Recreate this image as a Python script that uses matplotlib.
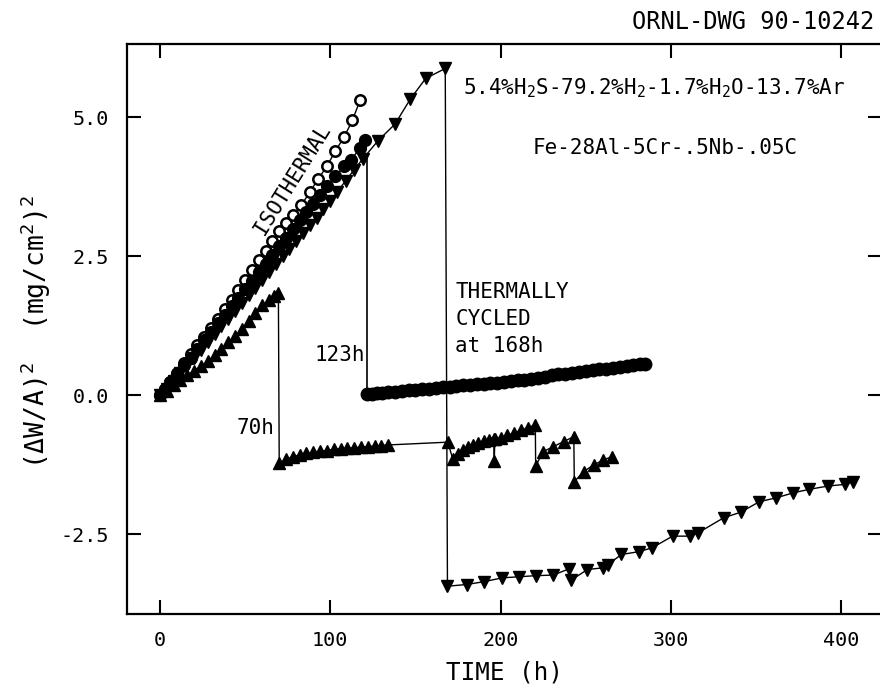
import matplotlib
matplotlib.use("Agg")
import matplotlib.pyplot as plt

MONO = 'DejaVu Sans Mono'
plt.rcParams['font.family'] = [MONO, 'DejaVu Sans']
plt.rcParams['axes.unicode_minus'] = False
plt.rcParams['mathtext.fontset'] = 'custom'
plt.rcParams['mathtext.rm'] = MONO
plt.rcParams['mathtext.it'] = MONO
plt.rcParams['mathtext.default'] = 'regular'

# ---------------- data ----------------
# isothermal, open circles
iso_t = [0, 3, 6, 10, 14, 18, 22, 26, 30, 34, 38, 42, 46, 50, 54, 58, 62, 66, 70,
         74, 78, 83, 88, 93, 98, 103, 108, 113, 117.5]
iso_w = [0, 0.12, 0.25, 0.40, 0.58, 0.74, 0.90, 1.06, 1.22, 1.38, 1.55, 1.72, 1.90,
         2.07, 2.25, 2.43, 2.60, 2.78, 2.95, 3.10, 3.25, 3.42, 3.66, 3.90, 4.12,
         4.40, 4.64, 4.95, 5.31]

# filled circles: isothermal part, cycled at 123 h
c1_t = [0, 3, 6, 10, 14, 18, 22, 26, 30, 34, 38, 42, 46, 50, 54, 58, 62, 66, 70,
        74, 78, 82, 86, 90, 94, 98, 103, 108, 112, 117.5, 120.5]
c1_w = [0, 0.12, 0.24, 0.38, 0.54, 0.68, 0.84, 0.99, 1.14, 1.30, 1.45, 1.60, 1.76,
        1.91, 2.06, 2.22, 2.37, 2.53, 2.68, 2.84, 3.00, 3.15, 3.30, 3.45, 3.60,
        3.76, 3.94, 4.12, 4.23, 4.45, 4.60]
c_drop_t = 121.5
c_drop_top = 4.27
c2_t = [121.5, 124.5, 127.5, 130.5, 134, 138, 142, 146, 150, 154, 158, 162, 166, 170,
        174, 178, 182, 186, 190, 194, 198, 202, 206, 210, 214, 218, 222, 226, 230,
        234, 238, 242, 246, 250, 254, 258, 262, 266, 270, 274, 278, 282, 285]
c2_w = [0.03, 0.035, 0.04, 0.05, 0.06, 0.07, 0.08, 0.09, 0.10, 0.11, 0.12, 0.13, 0.15,
        0.16, 0.17, 0.18, 0.19, 0.20, 0.21, 0.22, 0.23, 0.24, 0.26, 0.27, 0.28, 0.30,
        0.32, 0.34, 0.36, 0.38, 0.39, 0.40, 0.42, 0.44, 0.45, 0.47, 0.48, 0.50, 0.52,
        0.53, 0.55, 0.56, 0.57]

# upward triangles: cycled at 70 h, then repeatedly
tu_t = [0, 4, 8, 12, 16, 20, 24, 28, 32, 36, 40, 44, 48, 52, 56, 60, 64, 67, 69.5,
        70, 74, 78, 82, 86, 90, 94, 98, 102, 106, 110, 114, 118, 122, 126, 130, 134,
        169, 172, 175, 178, 181, 184, 187, 190, 193, 196, 196.3, 196.6, 200, 204, 208,
        212, 216, 220.4, 220.6, 225, 231, 237, 243, 243.3, 248.7, 254.6, 260.4, 265.4]
tu_w = [0, 0.08, 0.18, 0.28, 0.36, 0.44, 0.53, 0.62, 0.72, 0.84, 0.96, 1.07, 1.19,
        1.33, 1.48, 1.62, 1.72, 1.78, 1.85,
        -1.22, -1.15, -1.10, -1.07, -1.04, -1.02, -1.00, -0.99, -0.97, -0.96, -0.95,
        -0.94, -0.93, -0.92, -0.91, -0.90, -0.89,
        -0.84, -1.15, -1.05, -0.98, -0.93, -0.89, -0.85, -0.82, -0.80, -0.79, -1.18,
        -0.79, -0.76, -0.72, -0.67, -0.63, -0.58, -0.53, -1.27, -1.01, -0.92, -0.83,
        -0.74, -1.55, -1.37, -1.25, -1.16, -1.10]

# downward triangles: cycled at 168 h
td_t = [0, 4, 8, 12, 16, 20, 24, 28, 32, 36, 40, 44, 48, 52, 56, 60, 64, 68, 72, 76,
        80, 84, 88, 92, 96, 100, 104, 109, 114, 119, 128, 138, 147, 156, 167.5,
        168.8, 180, 190, 201, 211, 221, 231, 240, 241.5, 251, 260, 263, 271, 281, 289,
        301, 311, 316, 331, 341, 352, 362, 372, 381, 392, 402, 407]
td_w = [0, 0.12, 0.26, 0.40, 0.54, 0.68, 0.82, 0.96, 1.10, 1.24, 1.38, 1.52, 1.66,
        1.80, 1.94, 2.08, 2.22, 2.36, 2.50, 2.64, 2.78, 2.92, 3.06, 3.20, 3.35, 3.50,
        3.66, 3.86, 4.06, 4.25, 4.58, 4.88, 5.33, 5.70, 5.88,
        -3.43, -3.40, -3.35, -3.28, -3.26, -3.24, -3.23, -3.12, -3.32, -3.13, -3.10,
        -3.04, -2.86, -2.81, -2.74, -2.53, -2.53, -2.47, -2.20, -2.10, -1.91, -1.84,
        -1.75, -1.69, -1.63, -1.60, -1.55]

x_ticks = [0, 100, 200, 300, 400]
y_ticks = [-2.5, 0.0, 2.5, 5.0]
y_ticklabels = ["-2.5", "0.0", "2.5", "5.0"]

# ---------------- figure ----------------
fig = plt.figure(figsize=(8.8, 6.88), dpi=100)
ax = fig.add_axes([127 / 880, 1 - 614 / 688, 755 / 880, 570 / 688])

lw = 1.0
ax.plot(iso_t, iso_w, '-', color='black', lw=lw, marker='o', ms=7.5,
        mfc='white', mec='black', mew=1.8, zorder=3)
ax.plot(c1_t, c1_w, '-', color='black', lw=lw, marker='o', ms=8.5,
        mfc='black', mec='black', zorder=4)
ax.plot([c_drop_t, c_drop_t], [c_drop_top, c2_w[0]], '-', color='black', lw=1.2)
ax.plot(c2_t, c2_w, '-', color='black', lw=lw, marker='o', ms=9,
        mfc='black', mec='black', zorder=4)
ax.plot(tu_t, tu_w, '-', color='black', lw=lw, marker='^', ms=9,
        mfc='black', mec='black', zorder=4)
ax.plot(td_t, td_w, '-', color='black', lw=lw, marker='v', ms=9,
        mfc='black', mec='black', zorder=4)

ax.set_xlim(-19.4, 424)
ax.set_ylim(-3.93, 6.32)
ax.set_xticks(x_ticks)
ax.set_xticklabels([str(v) for v in x_ticks])
ax.set_yticks(y_ticks)
ax.set_yticklabels(y_ticklabels)
ax.tick_params(direction='in', length=10, width=1.5, top=True, right=True,
               labelsize=14.5)
ax.tick_params(axis='x', pad=12)
ax.tick_params(axis='y', pad=13)
for s in ax.spines.values():
    s.set_linewidth(1.6)

ax.set_xlabel("TIME (h)", fontsize=17.5, labelpad=8)
fig.text(36 / 880, 1 - 332 / 688, r"(ΔW/A)$^2$  (mg/cm$^2$)$^2$", rotation=90,
         fontsize=19, ha='center', va='center')

fig.text(0.994, 1 - 22 / 688, "ORNL-DWG 90-10242", fontsize=17,
         ha='right', va='center')

fs = 15
ax.text(178, 5.53, r"5.4%H$_2$S-79.2%H$_2$-1.7%H$_2$O-13.7%Ar", fontsize=fs,
        ha='left', va='center')
ax.text(296.7, 4.45, "Fe-28Al-5Cr-.5Nb-.05C", fontsize=fs, ha='center', va='center')
ax.text(77.5, 3.88, "ISOTHERMAL", fontsize=fs, rotation=58, ha='center', va='center',
        rotation_mode='anchor')
ax.text(173.5, 2.04, "THERMALLY\nCYCLED\nat 168h", fontsize=fs, ha='left', va='top',
        linespacing=1.45)
ax.text(120.4, 0.73, "123h", fontsize=fs, ha='right', va='center')
ax.text(67, -0.58, "70h", fontsize=fs, ha='right', va='center')

fig.savefig("out.png", dpi=100)
